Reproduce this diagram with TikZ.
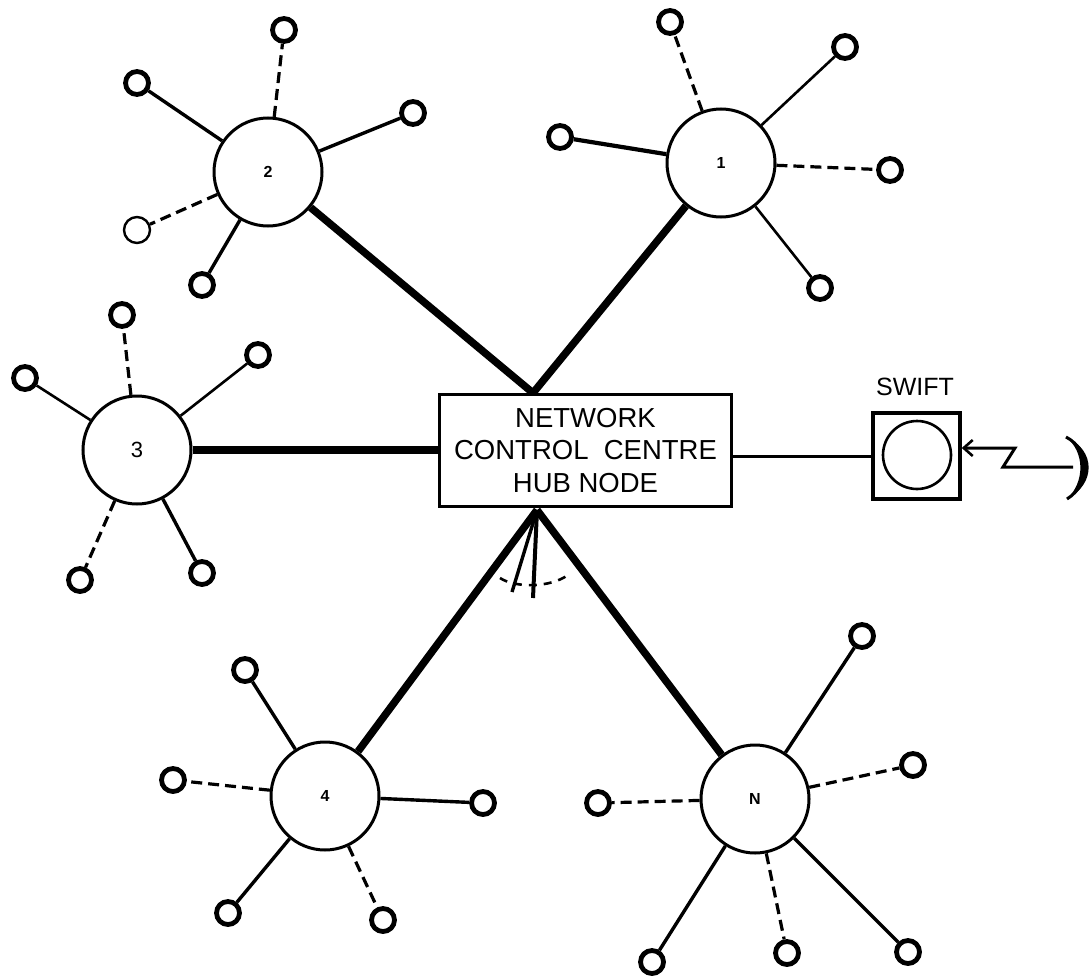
\documentclass[tikz,border=0pt]{standalone}
\usepackage{fontspec}
\newfontfamily\lab{Liberation Sans}
\usetikzlibrary{arrows.meta}
\tikzset{
  hubbox/.style={draw, line width=3.5pt, minimum width=292pt, minimum height=112pt, inner sep=0pt, align=center, font=\lab\fontsize{27.5}{32.5}\selectfont},
  station/.style={circle, draw, line width=3pt, minimum size=108pt, inner sep=0pt, font=\lab\bfseries\fontsize{16}{16}\selectfont},
  term/.style={circle, draw, line width=4.8pt, minimum size=23pt, inner sep=0pt},
  thinterm/.style={term, line width=2.4pt, minimum size=26pt},
  spoke/.style={line width=3.4pt},
  thinspoke/.style={line width=2.6pt},
  thickspoke/.style={line width=4.2pt},
  dspoke/.style={line width=3.2pt, dash pattern=on 11pt off 6pt},
  trunk/.style={line width=7.5pt},
  link/.style={line width=3pt},
}
\begin{document}
\begin{tikzpicture}[x=1pt,y=-1pt]
\useasboundingbox (0,0) rectangle (1089,979);

% hub
\node[hubbox] (hub) at (585.5,450.5) {NETWORK\\CONTROL\ \ CENTRE\\HUB\ NODE};
\coordinate (htop) at (533,393);
\coordinate (hbot) at (537,510);

% stations
\node[station] (n2) at (268,172) {2};
\node[station] (n1) at (721,163) {1};
\node[station, font=\lab\fontsize{22}{22}\selectfont] (n3) at (137,450) {3};
\node[station] (n4) at (325,796) {4};
\node[station] (nN) at (755,799) {N};

% SWIFT
\node[draw, line width=3.5pt, minimum width=87pt, minimum height=86pt, inner sep=0pt] (swift) at (916.5,456) {};
\node[circle, draw, line width=2.6pt, minimum size=68pt, inner sep=0pt] (swc) at (917,455) {};
\node[font=\lab\fontsize{25}{25}\selectfont] (swl) at (915,387) {SWIFT};

% terminals station 2
\node[term] (t2a) at (137,83) {};
\node[term] (t2b) at (284,30) {};
\node[term] (t2c) at (413,113) {};
\node[thinterm] (t2d) at (137,230) {};
\node[term] (t2e) at (202,285) {};
\draw[spoke] (n2) -- (t2a);
\draw[dspoke] (n2) -- (t2b);
\draw[spoke] (n2) -- (t2c);
\draw[dspoke] (n2) -- (t2d);
\draw[spoke] (n2) -- (t2e);

% terminals station 1
\node[term] (t1a) at (670,22) {};
\node[term] (t1b) at (845,47) {};
\node[term] (t1c) at (560,137) {};
\node[term] (t1d) at (890,170) {};
\node[term] (t1e) at (820,288) {};
\draw[dspoke] (n1) -- (t1a);
\draw[thinspoke] (n1) -- (t1b);
\draw[thickspoke] (n1) -- (t1c);
\draw[dspoke] (n1) -- (t1d);
\draw[thinspoke] (n1) -- (t1e);

% terminals station 3
\node[term] (t3a) at (122,315) {};
\node[term] (t3b) at (25,378) {};
\node[term] (t3c) at (258,355) {};
\node[term] (t3d) at (80,580) {};
\node[term] (t3e) at (202,573) {};
\draw[dspoke] (n3) -- (t3a);
\draw[thinspoke] (n3) -- (t3b);
\draw[thinspoke] (n3) -- (t3c);
\draw[dspoke] (n3) -- (t3d);
\draw[spoke] (n3) -- (t3e);

% terminals station 4
\node[term] (t4a) at (245,670) {};
\node[term] (t4b) at (173,780) {};
\node[term] (t4c) at (483,803) {};
\node[term] (t4d) at (228,913) {};
\node[term] (t4e) at (383,920) {};
\draw[spoke] (n4) -- (t4a);
\draw[dspoke] (n4) -- (t4b);
\draw[spoke] (n4) -- (t4c);
\draw[spoke] (n4) -- (t4d);
\draw[dspoke] (n4) -- (t4e);

% terminals station N
\node[term] (tNa) at (862,636) {};
\node[term] (tNb) at (913,765) {};
\node[term] (tNc) at (598,803) {};
\node[term] (tNd) at (652,962) {};
\node[term] (tNe) at (787,953) {};
\node[term] (tNf) at (908,952) {};
\draw[spoke] (nN) -- (tNa);
\draw[dspoke] (nN) -- (tNb);
\draw[dspoke] (nN) -- (tNc);
\draw[spoke] (nN) -- (tNd);
\draw[dspoke] (nN) -- (tNe);
\draw[spoke] (nN) -- (tNf);

% trunks
\draw[trunk] (n2) -- (htop);
\draw[trunk] (n1) -- (htop);
\draw[trunk] (n3) -- (n3 -| hub.west);
\draw[trunk] (n4) -- (hbot);
\draw[trunk] (nN) -- (hbot);

% hub to SWIFT
\draw[link] (hub.east |- swift.west) -- (swift.west);

% angle marker below hub
\coordinate (m1) at (512,592);
\coordinate (m2) at (533,598);
\draw[line width=3.4pt] (hbot) -- (m1);
\draw[line width=4pt] (hbot) -- (m2);
\draw[line width=2.6pt, dash pattern=on 8pt off 7pt] (500,578) .. controls (515,588) and (550,588) .. (568,575);

% antenna link
\coordinate (ant) at (1073,467);
\draw[line width=3pt, -{Straight Barb[length=9pt, width=16pt, line width=2.6pt]}] (ant) -- (1003,467) -- (1015,448) -- (swift.east |- 1015,448);
\fill (1066,437) .. controls (1096,450) and (1096,484) .. (1067,499) .. controls (1085,482) and (1085,452) .. (1066,437) -- cycle;
\draw[line width=3pt] (1066,437) .. controls (1091,450) and (1091,484) .. (1067,499);
\end{tikzpicture}
\end{document}
